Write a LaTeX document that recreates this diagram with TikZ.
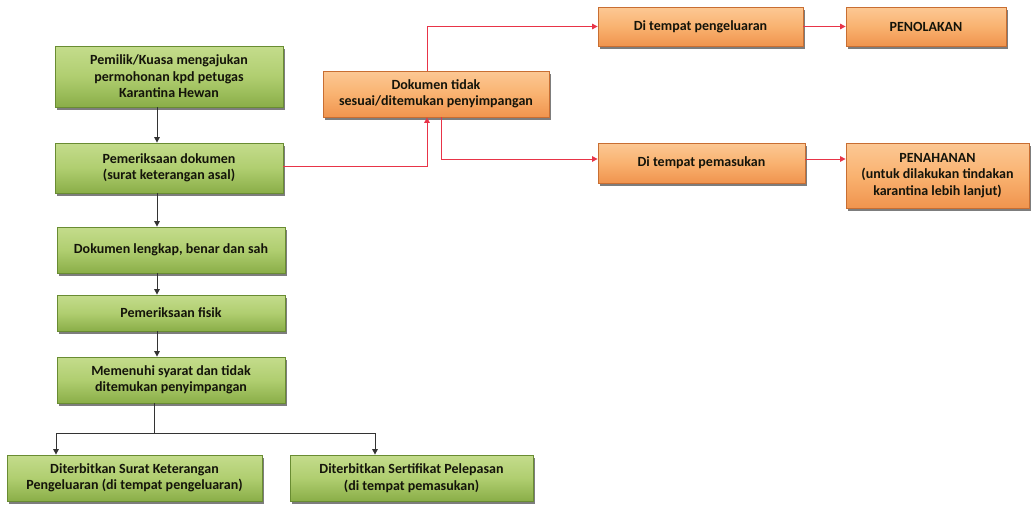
\documentclass[tikz,border=0pt]{standalone}
\usepackage{fontspec}
\setmainfont{Carlito}
\usetikzlibrary{arrows.meta,shadows}
\definecolor{gtop}{RGB}{196,220,140}
\definecolor{gmid}{RGB}{176,206,112}
\definecolor{gbot}{RGB}{138,174,72}
\definecolor{gline}{RGB}{105,140,50}
\definecolor{otop}{RGB}{252,200,148}
\definecolor{omid}{RGB}{249,178,112}
\definecolor{obot}{RGB}{240,148,78}
\definecolor{oline}{RGB}{200,110,50}
\definecolor{redline}{RGB}{232,52,72}
\definecolor{txt}{RGB}{20,20,10}
\tikzset{
  base/.style={draw, line width=0.8pt, align=center, inner sep=2pt,
    font=\fontsize{14}{16.5}\selectfont\bfseries, text=txt,
    drop shadow={shadow xshift=2pt, shadow yshift=-2.5pt, fill=black!60, opacity=0.85}},
  gbox/.style={base, draw=gline, top color=gtop, bottom color=gbot, middle color=gmid},
  obox/.style={base, draw=oline, top color=otop, bottom color=obot, middle color=omid},
  darr/.style={draw=black!80, line width=1pt, -{Triangle[length=5.5pt,width=5.5pt]}},
  rarr/.style={draw=redline, line width=1pt, -{Triangle[length=5.5pt,width=5.5pt]}},
  dline/.style={draw=black!80, line width=1pt},
}
\begin{document}
\begin{tikzpicture}[x=1pt,y=-1pt]
\useasboundingbox (0,0) rectangle (1031,506);
% green boxes
\node[gbox, minimum width=228pt, minimum height=61pt] (b1) at (169,76.5)
  {Pemilik/Kuasa mengajukan\\permohonan kpd petugas\\Karantina Hewan};
\node[gbox, minimum width=228pt, minimum height=50pt] (b2) at (169,168)
  {Pemeriksaan dokumen\\(surat keterangan asal)};
\node[gbox, minimum width=228pt, minimum height=46pt] (b3) at (171,250)
  {Dokumen lengkap, benar dan sah};
\node[gbox, minimum width=228pt, minimum height=36pt] (b4) at (171,313)
  {Pemeriksaan fisik};
\node[gbox, minimum width=228pt, minimum height=46pt] (b5) at (171,380)
  {Memenuhi syarat dan tidak\\ditemukan penyimpangan};
\node[gbox, minimum width=255pt, minimum height=46pt] (b6) at (134.5,478)
  {Diterbitkan Surat Keterangan\\Pengeluaran (di tempat pengeluaran)};
\node[gbox, minimum width=243pt, minimum height=46pt] (b7) at (411.5,478)
  {Diterbitkan Sertifikat Pelepasan\\(di tempat pemasukan)};
% orange boxes
\node[obox, minimum width=226pt, minimum height=46pt] (o1) at (436,94)
  {Dokumen tidak\\sesuai/ditemukan penyimpangan};
\node[obox, minimum width=205pt, minimum height=39pt] (o2) at (700.5,26.5)
  {Di tempat pengeluaran};
\node[obox, minimum width=160pt, minimum height=39pt] (o3) at (926,26.5)
  {PENOLAKAN};
\node[obox, minimum width=207pt, minimum height=40pt] (o4) at (701.5,163)
  {Di tempat pemasukan};
\node[obox, minimum width=183pt, minimum height=65pt] (o5) at (937.5,175.5)
  {PENAHANAN\\(untuk dilakukan tindakan\\karantina lebih lanjut)};
% column coordinates
\coordinate (col) at (157,0);
\coordinate (split) at (154,433);
\coordinate (lcol) at (56,0);
\coordinate (rcol) at (375,0);
\coordinate (up) at (427,0);
\coordinate (down) at (441,0);
% black arrows
\draw[darr] (b1.south -| col) -- (b2.north -| col);
\draw[darr] (b2.south -| col) -- (b3.north -| col);
\draw[darr] (b3.south -| col) -- (b4.north -| col);
\draw[darr] (b4.south -| col) -- (b5.north -| col);
\draw[dline] (b5.south -| split) -- (split);
\draw[darr] (split) -| (b6.north -| lcol);
\draw[darr] (split) -| (b7.north -| rcol);
% red arrows
\draw[rarr] ([yshift=2pt]b2.east) -| (o1.south -| up);
\draw[rarr] (o1.north -| up) |- (o2.west);
\draw[rarr] (o1.south -| down) |- ([yshift=4pt]o4.west);
\draw[rarr] (o2.east) -- (o3.west);
\draw[rarr] ([yshift=4pt]o4.east) coordinate (t) -- (t -| o5.west);
\end{tikzpicture}
\end{document}
